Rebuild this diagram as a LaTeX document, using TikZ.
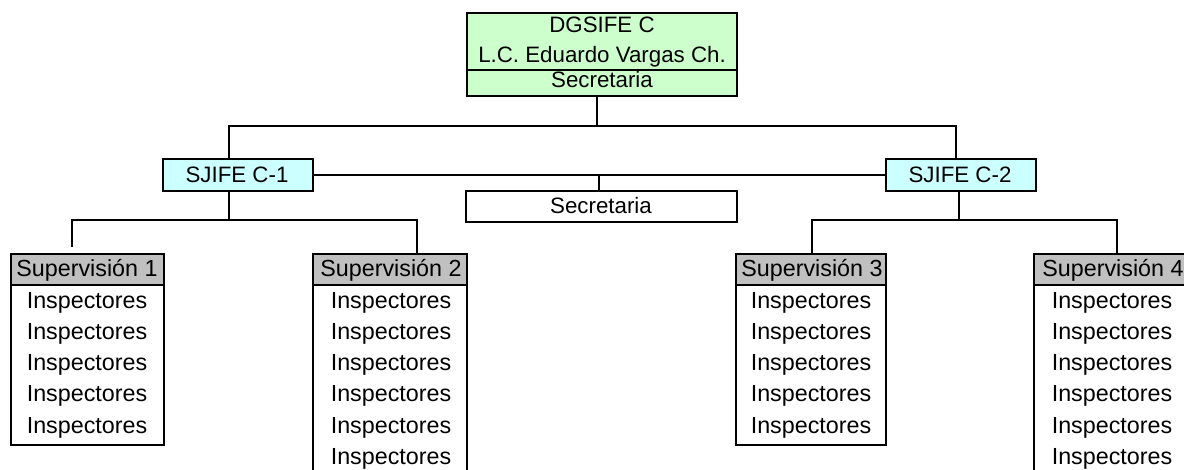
\documentclass[tikz,border=0pt]{standalone}
\usepackage{fontspec}
\setmainfont{Liberation Sans}
\definecolor{dggreen}{HTML}{CCFFCC}
\definecolor{sjcyan}{HTML}{CCFFFF}
\definecolor{supgray}{HTML}{C0C0C0}
\begin{document}
\begin{tikzpicture}[x=1pt,y=-1pt,
  box/.style={draw, rectangle, line width=2.6pt, inner sep=0pt, outer sep=0pt},
  headbox/.style={draw, rectangle, line width=1.5pt, fill=supgray, inner sep=0pt, outer sep=0pt, minimum height=31pt},
  conn/.style={line width=1.7pt},
  lbl/.style={inner sep=0pt, anchor=base, font=\fontsize{22.3}{26}\selectfont},
  slbl/.style={inner sep=0pt, anchor=base, font=\fontsize{23.3}{27}\selectfont}]
\useasboundingbox (0,0) rectangle (1184,470);
\clip (0,0) rectangle (1184,470);
\fill[white] (0,0) rectangle (1184,470);

% helper coordinates
\coordinate (xm) at (597,0);
\coordinate (xa) at (229,0);
\coordinate (xb) at (956,0);
\coordinate (xb2) at (959,0);
\coordinate (xt) at (599,0);
\coordinate (xs1) at (72,0);
\coordinate (xs2) at (417,0);
\coordinate (xs3) at (812,0);
\coordinate (xs4) at (1117,0);
\coordinate (ytop) at (0,126);
\coordinate (ylow) at (0,220);
\coordinate (dgdiv) at (0,70);

% top box
\node[box, fill=dggreen, minimum width=270pt, minimum height=83pt] (dg) at (602,54.5) {};
\draw[line width=2pt] (dg.west |- dgdiv) -- (dg.east |- dgdiv);
\node[lbl] (dgt1) at (602,33) {DGSIFE C};
\node[lbl] (dgt2) at (602,63) {L.C. Eduardo Vargas Ch.};
\node[lbl] (dgt3) at (602,88) {Secretaria};

% second level
\node[box, fill=sjcyan, minimum width=150pt, minimum height=32pt] (s1) at (238,175) {};
\node[lbl] (s1t) at (237,183) {SJIFE C-1};
\node[box, fill=sjcyan, minimum width=150pt, minimum height=32pt] (s2) at (961,175) {};
\node[lbl] (s2t) at (960,183) {SJIFE C-2};
\node[box, line width=2.2pt, fill=white, minimum width=271pt, minimum height=31pt] (sec) at (601.5,206.5) {};
\node[lbl] (sect) at (601,214) {Secretaria};

% supervision boxes
\node[headbox, minimum width=153pt] (sup1h) at (87.5,269.5) {};
\node[box, minimum width=153pt, minimum height=191pt] (sup1) at (87.5,349.5) {};
\node[slbl] (sup1t) at (87,277) {Supervisión 1};
\foreach \i in {0,...,4} \node[slbl] (sup1i\i) at (87,309+31*\i) {Inspectores};

\node[headbox, minimum width=154pt] (sup2h) at (390,269.5) {};
\node[box, minimum width=154pt, minimum height=246pt] (sup2) at (390,377) {};
\node[slbl] (sup2t) at (391,277) {Supervisión 2};
\foreach \i in {0,...,5} \node[slbl] (sup2i\i) at (391,309+31*\i) {Inspectores};

\node[headbox, minimum width=150pt] (sup3h) at (811,269.5) {};
\node[box, minimum width=150pt, minimum height=191pt] (sup3) at (811,349.5) {};
\node[slbl] (sup3t) at (812,277) {Supervisión 3};
\foreach \i in {0,...,4} \node[slbl] (sup3i\i) at (811,309+31*\i) {Inspectores};

\node[headbox, minimum width=154pt] (sup4h) at (1111,269.5) {};
\node[box, minimum width=154pt, minimum height=246pt] (sup4) at (1111,377) {};
\node[slbl] (sup4t) at (1113,277) {Supervisión 4};
\foreach \i in {0,...,5} \node[slbl] (sup4i\i) at (1112,309+31*\i) {Inspectores};

% connectors
\draw[conn] (dg.south -| xm) -- (xm |- ytop);
\draw[conn] (s1.north -| xa) |- (xb |- ytop) -- (s2.north -| xb);
\draw[conn] (s1.east) -- (s2.west);
\draw[conn] (sec.north -| xt) -- (xt |- s1.east);
\draw[conn] (s1.south -| xa) -- (xa |- ylow);
\draw[conn, shorten <=7pt] (sup1.north -| xs1) |- (xs2 |- ylow) -- (sup2.north -| xs2);
\draw[conn] (s2.south -| xb2) -- (xb2 |- ylow);
\draw[conn] (sup3.north -| xs3) |- (xs4 |- ylow) -- (sup4.north -| xs4);
\end{tikzpicture}
\end{document}
